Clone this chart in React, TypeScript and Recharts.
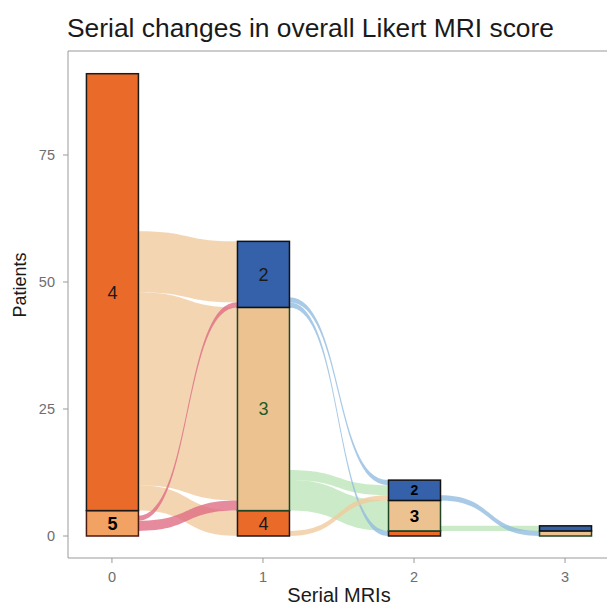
import React from "react"
import { ComposedChart, Bar, Area, XAxis, YAxis, ReferenceLine } from "recharts"

// strata: patients per Likert score at each serial MRI
const mriIndex = [0, 1, 2, 3]
const score5 = [5, 0, 0, 0]
const score4 = [86, 5, 1, 0]
const score3 = [0, 40, 6, 1]
const score2 = [0, 13, 4, 1]

const label5 = ["5", "", "", ""]
const label4 = ["4", "4", "", ""]
const label3 = ["", "3", "3", ""]
const label2 = ["", "2", "2", ""]

// flows between consecutive MRIs (stack position at origin / destination, size)
const flowTime = [0, 0, 0, 0, 0, 1, 1, 1, 1, 1, 2, 2]
const flowOrigin = [4, 4, 4, 5, 5, 3, 3, 2, 2, 4, 3, 2]
const flowFrom = [5, 10, 48, 1, 3, 5, 11, 45, 46, 0, 1, 7]
const flowTo = [0, 7, 46, 5, 45, 1, 8, 0, 10, 7, 1, 0]
const flowSize = [5, 38, 12, 2, 1, 6, 2, 1, 1, 1, 1, 1]

const yTicks = [0, 25, 50, 75]

const W = 620
const H = 607
const Y_AXIS_W = 68
const X_AXIS_H = 49
const margin = { top: 51, right: 11, bottom: 0, left: 0 }
const X_DOMAIN: [number, number] = [-0.291, 3.291]
const Y_DOMAIN: [number, number] = [-4.33, 95.47]
const BAR_HALF = 0.172
const pxPerUnit = (W - Y_AXIS_W - margin.right) / (X_DOMAIN[1] - X_DOMAIN[0])
const barSize = Math.round(2 * BAR_HALF * pxPerUnit)

const FONT = "'Liberation Sans', Arial, sans-serif"
const AXIS_GREY = "#9a9a9a"

const stratumFill: Record<number, string> = { 5: "#F2A263", 4: "#EA6A2A", 3: "#ECC291", 2: "#3461A9" }
const stratumStroke: Record<number, string> = { 5: "#4a1a10", 4: "#1a1a1a", 3: "#1f4426", 2: "#111111" }
const flowFill: Record<number, string> = { 5: "#DE6A82", 4: "#F1C99C", 3: "#BDE6B8", 2: "#8FBBE0" }

const labelStyle: Record<string, { size: number; weight: number; color: string }> = {
  "0-5": { size: 18, weight: 700, color: "#000" },
  "0-4": { size: 18, weight: 400, color: "#1a1a1a" },
  "1-2": { size: 18, weight: 400, color: "#1a1a1a" },
  "1-3": { size: 18, weight: 400, color: "#1d5a26" },
  "1-4": { size: 18, weight: 400, color: "#1a1a1a" },
  "2-2": { size: 14, weight: 700, color: "#000" },
  "2-3": { size: 17, weight: 700, color: "#000" },
}

const labels: Record<number, string[]> = { 5: label5, 4: label4, 3: label3, 2: label2 }

const strata = mriIndex.map((t, i) => ({
  x: t,
  s5: score5[i],
  s4: score4[i],
  s3: score3[i],
  s2: score2[i],
}))

const flows = flowTime.map((t, i) => ({
  key: "flow" + i,
  color: flowFill[flowOrigin[i]],
  data: [
    { fx: t + BAR_HALF, r: [flowFrom[i], flowFrom[i] + flowSize[i]] },
    { fx: t + 1 - BAR_HALF, r: [flowTo[i], flowTo[i] + flowSize[i]] },
  ],
}))

// horizontal-tangent bezier between points, like alluvial ribbons
class SigmoidCurve {
  _context: any
  _line: number = NaN
  _point = 0
  _x0 = 0
  _y0 = 0
  constructor(ctx: any) {
    this._context = ctx
  }
  areaStart() {
    this._line = 0
  }
  areaEnd() {
    this._line = NaN
  }
  lineStart() {
    this._point = 0
  }
  lineEnd() {
    if (this._line || (this._line !== 0 && this._point === 1)) this._context.closePath()
    this._line = 1 - this._line
  }
  point(x: number, y: number) {
    x = +x
    y = +y
    if (this._point === 0) {
      this._point = 1
      if (this._line) this._context.lineTo(x, y)
      else this._context.moveTo(x, y)
    } else {
      const k = (x - this._x0) * 0.55
      this._context.bezierCurveTo(this._x0 + k, this._y0, x - k, y, x, y)
      this._point = 2
    }
    this._x0 = x
    this._y0 = y
  }
}
const sigmoid = (ctx: any) => new SigmoidCurve(ctx)

function stratumShape(score: number) {
  return (p: any) => {
    const { x, y, width, height, index } = p
    if (!height || Math.abs(height) < 0.5) return <g />
    const text = labels[score][index]
    const st = labelStyle[index + "-" + score]
    return (
      <g>
        <rect x={x} y={y} width={width} height={height} fill={stratumFill[score]} stroke={stratumStroke[score]} strokeWidth={1.5} />
        {text && st && (
          <text
            x={x + width / 2}
            y={y + height / 2}
            dy="0.36em"
            textAnchor="middle"
            fontFamily={FONT}
            fontSize={st.size}
            fontWeight={st.weight}
            fill={st.color}
          >
            {text}
          </text>
        )}
      </g>
    )
  }
}

export default function App() {
  return (
    <div style={{ position: "absolute", left: 0, top: 0, width: 607, height: 607, overflow: "hidden", background: "#fff" }}>
      <ComposedChart width={W} height={H} data={strata} margin={margin}>
        <XAxis
          dataKey="x"
          type="number"
          domain={X_DOMAIN}
          ticks={mriIndex}
          allowDataOverflow
          height={X_AXIS_H}
          stroke={AXIS_GREY}
          tickSize={5}
          tickMargin={9}
          tick={{ fill: "#6e6e6e", fontSize: 14.5, fontFamily: FONT }}
        />
        <XAxis xAxisId="flow" dataKey="fx" type="number" domain={X_DOMAIN} allowDataOverflow hide />
        <YAxis
          type="number"
          domain={Y_DOMAIN}
          ticks={yTicks}
          allowDataOverflow
          width={Y_AXIS_W}
          stroke={AXIS_GREY}
          tickSize={5}
          tickMargin={8}
          tick={{ fill: "#6e6e6e", fontSize: 14.5, fontFamily: FONT }}
        />
        <ReferenceLine y={Y_DOMAIN[1]} stroke={AXIS_GREY} strokeWidth={1.2} ifOverflow="visible" />
        {flows.map((f) => (
          <Area
            key={f.key}
            xAxisId="flow"
            data={f.data}
            dataKey="r"
            type={sigmoid as any}
            fill={f.color}
            fillOpacity={0.78}
            stroke="none"
            dot={false}
            activeDot={false}
            isAnimationActive={false}
          />
        ))}
        <Bar dataKey="s5" stackId="s" barSize={barSize} shape={stratumShape(5)} isAnimationActive={false} />
        <Bar dataKey="s4" stackId="s" barSize={barSize} shape={stratumShape(4)} isAnimationActive={false} />
        <Bar dataKey="s3" stackId="s" barSize={barSize} shape={stratumShape(3)} isAnimationActive={false} />
        <Bar dataKey="s2" stackId="s" barSize={barSize} shape={stratumShape(2)} isAnimationActive={false} />
      </ComposedChart>
      <svg width={607} height={607} style={{ position: "absolute", left: 0, top: 0, pointerEvents: "none" }}>
        <text x={67} y={37} fontFamily={FONT} fontSize={26.4} fill="#1a1a1a">
          Serial changes in overall Likert MRI score
        </text>
        <text x={0} y={0} transform="translate(26,285) rotate(-90)" textAnchor="middle" fontFamily={FONT} fontSize={18} fill="#1a1a1a">
          Patients
        </text>
        <text x={339} y={602} textAnchor="middle" fontFamily={FONT} fontSize={20} fill="#1a1a1a">
          Serial MRIs
        </text>
      </svg>
    </div>
  )
}
